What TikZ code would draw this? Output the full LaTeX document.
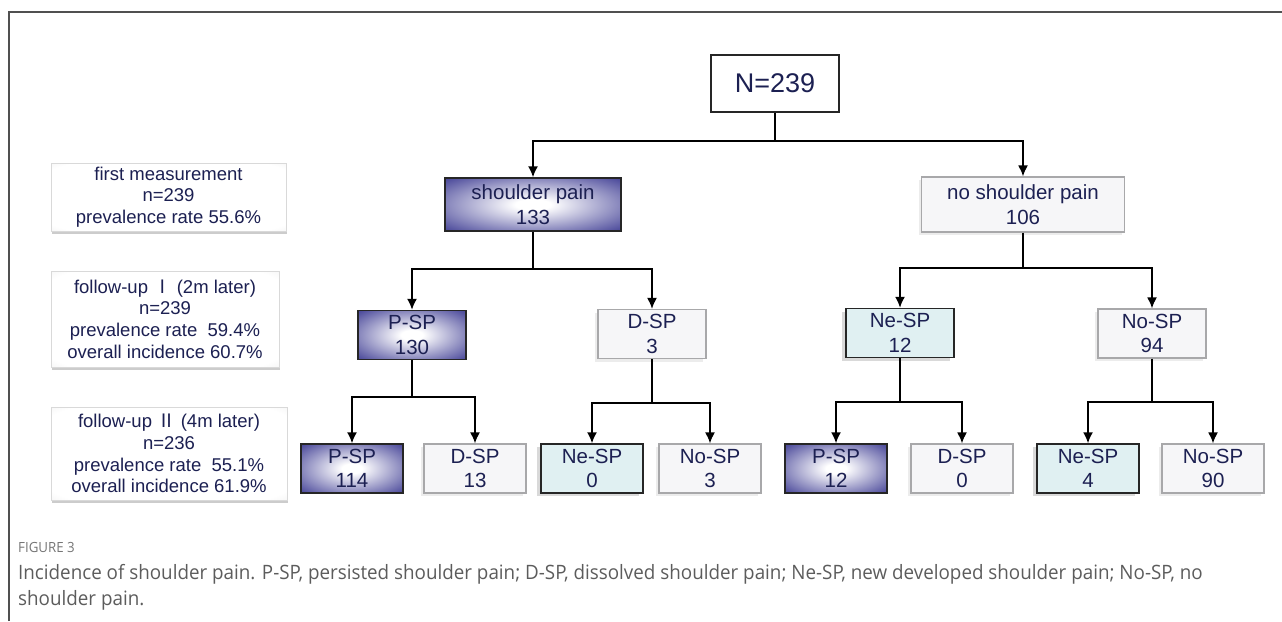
\documentclass[tikz,border=0pt]{standalone}
\usepackage{fontspec}
\setmainfont{Liberation Sans}
\newfontfamily\cjk{Noto Sans CJK SC}
\newfontfamily\capfont[FakeStretch=0.95]{Open Sans}
\usepackage{xcolor}
\usetikzlibrary{positioning,calc,arrows.meta,shadows}

\definecolor{txtblue}{RGB}{28,32,82}
\definecolor{pspblue}{RGB}{42,40,136}
\definecolor{neblue}{RGB}{224,240,242}
\definecolor{dspfill}{RGB}{246,246,248}
\definecolor{dspline}{RGB}{168,168,170}
\definecolor{capgray}{RGB}{92,92,92}
\definecolor{framegray}{RGB}{80,80,80}

\pgfdeclareradialshading{pspshade}{\pgfpoint{0bp}{0bp}}{color(0bp)=(white); color(5bp)=(white); color(40bp)=(pspblue); color(80bp)=(pspblue)}
\pgfdeclareradialshading{stageshade}{\pgfpoint{0bp}{0bp}}{color(0bp)=(white); color(32bp)=(white); color(47bp)=(black!14); color(52bp)=(black!30); color(80bp)=(black!34)}

\begin{document}
\begin{tikzpicture}[x=1pt, y=-1pt, >={Latex[length=11pt,width=10pt]},
    link/.style={line width=1.7pt, black},
    rootbox/.style={draw=black!85, line width=1.4pt, fill=white, inner sep=0pt,
        minimum width=128pt, minimum height=57pt, text=txtblue,
        font=\fontsize{27}{30}\selectfont},
    treebox/.style={inner sep=0pt, align=center, text=txtblue,
        font=\fontsize{20.5}{24.5}\selectfont},
    pspbox/.style={treebox, draw=black!85, line width=1.4pt, shading=pspshade},
    nebox/.style={treebox, draw=black!85, line width=1.4pt, fill=neblue,
        drop shadow={shadow xshift=-4pt, shadow yshift=-3pt, opacity=0.3}},
    dspbox/.style={treebox, draw=dspline, line width=1.2pt, fill=dspfill,
        drop shadow={shadow xshift=-3pt, shadow yshift=-3pt, opacity=0.15}},
    midrow/.style={minimum width=108pt, minimum height=49pt},
    lowrow/.style={minimum width=102pt, minimum height=49pt},
    stagebox/.style={draw=black!15, line width=0.6pt, shading=stageshade,
        inner sep=0pt, align=center, text=txtblue,
        font=\fontsize{18.5}{21.7}\selectfont,
        drop shadow={shadow xshift=1pt, shadow yshift=-3pt, opacity=0.4}}]
    \useasboundingbox (0,0) rectangle (1282,621);

    % frame
    \draw [framegray, line width=1.5pt] (9,621) -- (9,12) -- (1282,12);

    % stages on the left
    \node [stagebox, minimum width=235pt, minimum height=68pt] (st1) at (168.5,197)
        {first measurement\\n=239\\prevalence rate 55.6\%};
    \node [stagebox, minimum width=228pt, minimum height=96pt] (st2) at (165,319)
        {follow-up {\cjk Ⅰ} (2m later)\\n=239\\prevalence rate\ \ 59.4\%\\overall incidence 60.7\%};
    \node [stagebox, minimum width=236pt, minimum height=93pt] (st3) at (169,453.5)
        {follow-up {\cjk Ⅱ} (4m later)\\n=236\\prevalence rate\ \ 55.1\%\\overall incidence 61.9\%};

    % root
    \node [rootbox] (root) at (775,83.5) {N=239};

    % first measurement
    \node [pspbox, minimum width=176pt, minimum height=53pt] (sp) at (533,204.5) {shoulder pain\\133};
    \node [dspbox, minimum width=203pt, minimum height=55pt] (nsp) at (1023,204.5) {no shoulder pain\\106};

    % follow-up I
    \node [pspbox, midrow] (psp1) at (412,335) {P-SP\\130};
    \node [dspbox, midrow] (dsp1) at (652,334) {D-SP\\3};
    \node [nebox, midrow] (ne1) at (900,333) {Ne-SP\\12};
    \node [dspbox, midrow] (no1) at (1152,333.5) {No-SP\\94};

    % follow-up II
    \node [pspbox, lowrow] (psp2a) at (352,468.5) {P-SP\\114};
    \node [dspbox, lowrow] (dsp2a) at (475,468.5) {D-SP\\13};
    \node [nebox, lowrow] (ne2a) at (592,468.5) {Ne-SP\\0};
    \node [dspbox, lowrow] (no2a) at (710,468.5) {No-SP\\3};
    \node [pspbox, lowrow] (psp2b) at (836,468.5) {P-SP\\12};
    \node [dspbox, lowrow] (dsp2b) at (962,468.5) {D-SP\\0};
    \node [nebox, lowrow] (ne2b) at (1088,468.5) {Ne-SP\\4};
    \node [dspbox, lowrow] (no2b) at (1213,468.5) {No-SP\\90};

    % branch points
    \coordinate (j0) at (775,141);
    \coordinate (j1) at (533,269);
    \coordinate (j2) at (1023,268);
    \coordinate (j3) at (412,397);
    \coordinate (j4) at (652,403);
    \coordinate (j5) at (900,402);
    \coordinate (j6) at (1152,402);

    \draw [link] (root) -- (j0);
    \draw [link,->] (j0) -| (sp);
    \draw [link,->] (j0) -| (nsp);

    \draw [link] (sp) -- (j1);
    \draw [link,->] (j1) -| (psp1);
    \draw [link,->] (j1) -| (dsp1);
    \draw [link] (nsp) -- (j2);
    \draw [link,->] (j2) -| (ne1);
    \draw [link,->] (j2) -| (no1);

    \draw [link] (psp1) -- (j3);
    \draw [link,->] (j3) -| (psp2a);
    \draw [link,->] (j3) -| (dsp2a);
    \draw [link] (dsp1) -- (j4);
    \draw [link,->] (j4) -| (ne2a);
    \draw [link,->] (j4) -| (no2a);
    \draw [link] (ne1) -- (j5);
    \draw [link,->] (j5) -| (psp2b);
    \draw [link,->] (j5) -| (dsp2b);
    \draw [link] (no1) -- (j6);
    \draw [link,->] (j6) -| (ne2b);
    \draw [link,->] (j6) -| (no2b);

    % caption
    \node [anchor=base west, inner sep=0pt, text=capgray!85,
        font=\capfont\fontsize{14}{17}\selectfont] (fig) at (18,552) {FIGURE 3};
    \node [anchor=base west, inner sep=0pt, text=capgray,
        font=\capfont\fontsize{19.8}{23}\selectfont] (cap1) at (18,579)
        {Incidence of shoulder pain. P-SP, persisted shoulder pain; D-SP, dissolved shoulder pain; Ne-SP, new developed shoulder pain; No-SP, no};
    \node [anchor=base west, inner sep=0pt, text=capgray,
        font=\capfont\fontsize{19.8}{23}\selectfont] (cap2) at (18,605)
        {shoulder pain.};
\end{tikzpicture}
\end{document}
